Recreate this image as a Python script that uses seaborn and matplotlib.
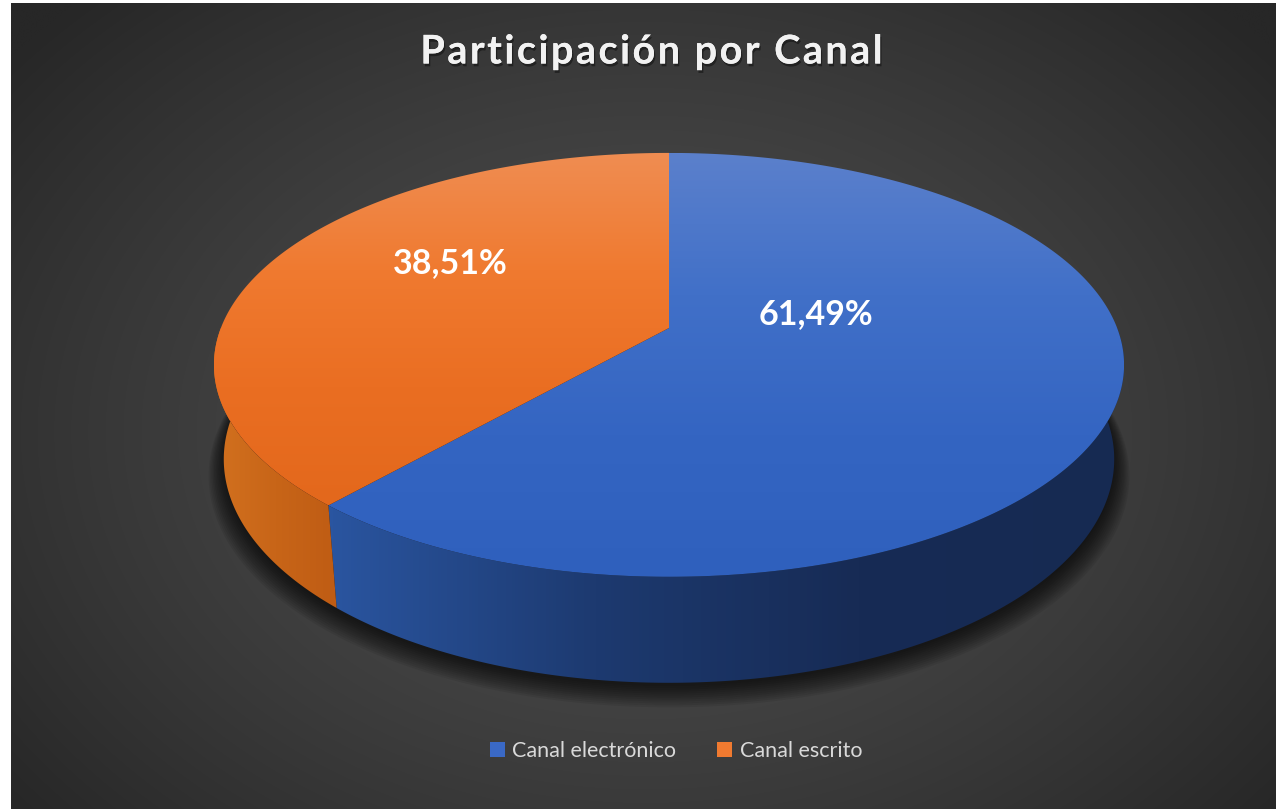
import numpy as np
import matplotlib
matplotlib.use("Agg")
import matplotlib.pyplot as plt
import matplotlib.patheffects as pe
from matplotlib.patches import Polygon, Patch
import seaborn as sns

# data
categories = ["Canal electrónico", "Canal escrito"]
shares = [61.49, 38.51]
pct_labels = ["61,49%", "38,51%"]
title = "Participación por Canal"

# colours (top face light->dark, side wall left->right)
top_colors = [["#5b80cc", "#4170c8", "#3465c2", "#2f60bd"],
              ["#ef8d52", "#f07a30", "#ea6e22", "#e3681c"]]
side_colors = [["#2a55a0", "#1d3a70", "#172b55", "#162a52"],
               ["#d2711f", "#c86518", "#bf5c14"]]
legend_colors = ["#3a69c6", "#f07a30"]

# 3d layout (perspective camera)
cx, cy = 669, 328
phi = np.radians(27.3)
D, F, depth = 5.11, 2290.0, 0.239
label_r = [0.34, 0.536]
label_z = [0.097, 0.07]

sns.set_theme(style="white")
plt.rcParams["font.family"] = ["Lato", "DejaVu Sans"]


def project(theta, r=1.0, z=0.0):
    th = np.radians(theta)
    x, y = r * np.cos(th), r * np.sin(th)
    w = D + y * np.cos(phi) - z * np.sin(phi)
    u = F * x / w
    v = F * (y * np.sin(phi) + z * np.cos(phi)) / w
    return cx + u, cy - v


def grad_fill(ax, verts, colors, axis, zorder):
    verts = np.asarray(verts)
    patch = Polygon(verts, closed=True, facecolor="none", edgecolor="none", zorder=zorder)
    ax.add_patch(patch)
    x0, y0 = verts.min(axis=0)
    x1, y1 = verts.max(axis=0)
    g = np.linspace(0, 1, 256)
    grad = g[None, :] if axis == "x" else g[:, None]
    cmap = sns.blend_palette(colors, as_cmap=True)
    im = ax.imshow(grad, cmap=cmap, extent=(x0, x1, y1, y0), vmin=0, vmax=1,
                   aspect="auto", interpolation="bilinear", zorder=zorder)
    im.set_clip_path(patch)


fig = plt.figure(figsize=(12.76, 8.09), dpi=100, facecolor="white")
ax = fig.add_axes([0, 0, 1, 1])
ax.axis("off")

# background radial gradient
W, H = 1276, 809
yy, xx = np.mgrid[0:H, 0:W]
dist = np.sqrt(((xx - 640) / 820.0) ** 2 + ((yy - 430) / 600.0) ** 2)
dist = np.clip(dist, 0, 1) ** 1.4
c_in = np.array([0x4e, 0x4e, 0x4e]) / 255
c_out = np.array([0x27, 0x27, 0x27]) / 255
bg = c_in[None, None, :] * (1 - dist[..., None]) + c_out[None, None, :] * dist[..., None]
ax.imshow(bg, extent=(11, W, H, 3), aspect="auto", zorder=0)

# shadow under the pie
ang = np.linspace(0, 360, 361)
for i in range(12):
    sx, sy = project(ang, r=1.0 + 0.003 * i, z=-depth)
    ax.add_patch(Polygon(np.column_stack([sx, sy + 3 + 1.0 * i]), closed=True,
                         facecolor="black", edgecolor="none", alpha=0.07, zorder=1))

# slice angles: start at 12 o'clock, clockwise
ends = 90 - 3.6 * np.cumsum(shares)
starts = np.concatenate([[90], ends[:-1]])

for k in range(len(shares)):
    a_lo, a_hi = ends[k], starts[k]
    # side wall (front half only)
    for shift in (-360, 0, 360):
        lo, hi = max(a_lo, -180 + shift), min(a_hi, 0 + shift)
        if hi - lo <= 0:
            continue
        t = np.linspace(lo, hi, 200)
        tx, ty = project(t)
        bx, by = project(t[::-1], z=-depth)
        verts = np.column_stack([np.concatenate([tx, bx]), np.concatenate([ty, by])])
        grad_fill(ax, verts, side_colors[k], "x", zorder=3)
    # top face
    t = np.linspace(a_lo, a_hi, 300)
    tx, ty = project(t)
    verts = np.vstack([[cx, cy], np.column_stack([tx, ty])])
    grad_fill(ax, verts, top_colors[k], "y", zorder=4)

    lx, ly = project((a_lo + a_hi) / 2, r=label_r[k], z=label_z[k])
    ax.text(lx, ly, pct_labels[k], color="white", fontsize=24.5, fontweight="bold",
            ha="center", va="center", zorder=6)

# title with letter spacing
ax.text(652, 52, "\u200a".join(title), color="#f2f2f2", fontsize=28.5, fontweight="bold",
        ha="center", va="center", zorder=6,
        path_effects=[pe.withSimplePatchShadow(offset=(1, -2), shadow_rgbFace="black", alpha=0.4),
                      pe.Normal()])

handles = [Patch(facecolor=c, edgecolor="none") for c in legend_colors]
fig.legend(handles, categories, loc="center", bbox_to_anchor=(676 / W, 1 - 751 / H),
           ncol=2, frameon=False, fontsize=15.5, labelcolor="#d9d9d9",
           handlelength=0.7, handleheight=0.7, handletextpad=0.35, columnspacing=1.9)

ax.set_xlim(0, W)
ax.set_ylim(H, 0)
fig.savefig("out.png", dpi=100, facecolor="white")
